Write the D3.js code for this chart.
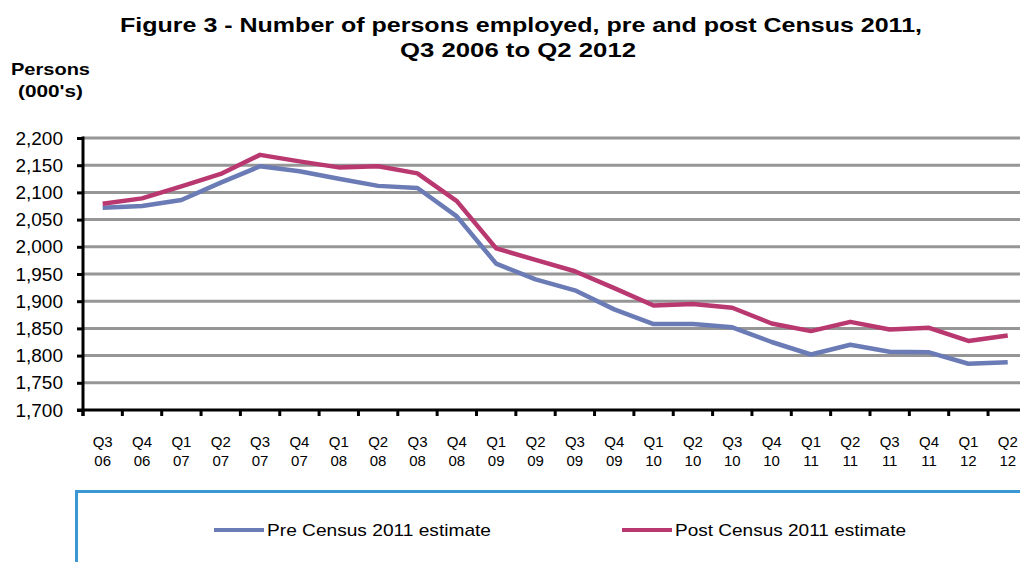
<!DOCTYPE html>
<html>
<head>
<meta charset="utf-8">
<script src="https://cdn.jsdelivr.net/npm/d3@7/dist/d3.min.js"></script>
<style>
  html, body { margin: 0; padding: 0; background: #fff; }
  svg { display: block; font-family: "Liberation Sans", Arial, sans-serif; }
</style>
</head>
<body>
<svg id="chart" width="1020" height="562"></svg>
<script>
const quarters = ["Q3","Q4","Q1","Q2","Q3","Q4","Q1","Q2","Q3","Q4","Q1","Q2","Q3","Q4","Q1","Q2","Q3","Q4","Q1","Q2","Q3","Q4","Q1","Q2"];
const years    = ["06","06","07","07","07","07","08","08","08","08","09","09","09","09","10","10","10","10","11","11","11","11","12","12"];
const preCensus  = [2072,2075,2086,2118,2148,2139,2125,2112,2108,2056,1969,1940,1920,1885,1858,1858,1852,1825,1802,1820,1807,1806,1785,1788];
const postCensus = [2079,2089,2111,2134,2169,2157,2146,2148,2135,2084,1997,1976,1955,1924,1892,1895,1888,1859,1845,1862,1848,1851,1827,1837];
const yTicks = [1700,1750,1800,1850,1900,1950,2000,2050,2100,2150,2200];
const seriesNames = ["Pre Census 2011 estimate","Post Census 2011 estimate"];

(function () {
const svg = d3.select("#chart");
const plotLeft = 83, plotTop = 138, plotBottom = 410;
const band = 39.35;
const categories = quarters.map((q,i) => i);

const x = d3.scaleBand().domain(categories).range([plotLeft, plotLeft + band*categories.length]).paddingInner(0).paddingOuter(0);
const y = d3.scaleLinear().domain([1700, 2200]).range([plotBottom, plotTop]);

// Title
svg.append("text").attr("x", 521).attr("y", 32).attr("text-anchor","middle")
  .attr("font-size", 21).attr("font-weight","bold").attr("fill","#000")
  .attr("textLength", 802).attr("lengthAdjust","spacingAndGlyphs")
  .text("Figure 3 - Number of persons employed, pre and post Census 2011,");
svg.append("text").attr("x", 518).attr("y", 57).attr("text-anchor","middle")
  .attr("font-size", 21).attr("font-weight","bold").attr("fill","#000")
  .attr("textLength", 236).attr("lengthAdjust","spacingAndGlyphs")
  .text("Q3 2006 to Q2 2012");

// Axis title
svg.append("text").attr("x", 11).attr("y", 75).attr("font-size", 17).attr("font-weight","bold")
  .attr("textLength", 79).attr("lengthAdjust","spacingAndGlyphs").text("Persons");
svg.append("text").attr("x", 18).attr("y", 97).attr("font-size", 17).attr("font-weight","bold")
  .attr("textLength", 65).attr("lengthAdjust","spacingAndGlyphs").text("(000's)");

// Gridlines
svg.append("g").selectAll("line").data(yTicks.filter(d => d !== 1700)).join("line")
  .attr("x1", plotLeft).attr("x2", 1020)
  .attr("y1", d => y(d)).attr("y2", d => y(d))
  .attr("stroke", "#969696").attr("stroke-width", 3);

// Y axis
const yAxis = d3.axisLeft(y).tickValues(yTicks).tickSize(6).tickPadding(14)
  .tickFormat(d3.format(","));
const gy = svg.append("g").attr("transform", `translate(${plotLeft},0)`).call(yAxis);
gy.select(".domain").remove();
gy.selectAll(".tick line").attr("stroke","#000").attr("stroke-width",3);
gy.selectAll(".tick text").attr("font-size", 19).attr("fill","#000")
  .attr("font-family","'Liberation Sans', Arial, sans-serif");
svg.append("line").attr("x1", plotLeft).attr("x2", plotLeft).attr("y1", plotTop - 1.5).attr("y2", plotBottom + 6)
  .attr("stroke","#000").attr("stroke-width",3);

// X axis
const boundaries = categories.map(c => x(c)).concat([plotLeft + band*categories.length]);
svg.append("line").attr("x1", plotLeft - 6).attr("x2", 1020).attr("y1", plotBottom).attr("y2", plotBottom)
  .attr("stroke","#000").attr("stroke-width",3);
svg.append("g").selectAll("line").data(boundaries).join("line")
  .attr("x1", d => d).attr("x2", d => d).attr("y1", plotBottom).attr("y2", plotBottom + 6)
  .attr("stroke","#000").attr("stroke-width",3);

const xl = svg.append("g").selectAll("g").data(categories).join("g")
  .attr("transform", d => `translate(${x(d) + x.bandwidth()/2},0)`);
xl.append("text").attr("y", 447).attr("text-anchor","middle").attr("font-size", 15).attr("fill","#000")
  .text(d => quarters[d]);
xl.append("text").attr("y", 466).attr("text-anchor","middle").attr("font-size", 15).attr("fill","#000")
  .text(d => years[d]);

// Lines
const line = d3.line().x((d,i) => x(i) + x.bandwidth()/2).y(d => y(d));
svg.append("path").datum(preCensus).attr("d", line).attr("fill","none")
  .attr("stroke","#6B7BB5").attr("stroke-width",4.5).attr("stroke-linejoin","round");
svg.append("path").datum(postCensus).attr("d", line).attr("fill","none")
  .attr("stroke","#B8386F").attr("stroke-width",4.5).attr("stroke-linejoin","round");

// Legend box
svg.append("path").attr("d", "M76.5,562 L76.5,491.5 L1020,491.5").attr("fill","none")
  .attr("stroke","#3A97D3").attr("stroke-width",3);

const legendColors = ["#6B7BB5","#B8386F"];
const legendX = [214, 622];
const legendW = [224, 231];
seriesNames.forEach((name, i) => {
  svg.append("line").attr("x1", legendX[i]).attr("x2", legendX[i] + 50).attr("y1", 530).attr("y2", 530)
    .attr("stroke", legendColors[i]).attr("stroke-width", 4);
  svg.append("text").attr("x", legendX[i] + 53).attr("y", 536).attr("font-size", 17).attr("fill","#000")
    .attr("textLength", legendW[i]).attr("lengthAdjust","spacingAndGlyphs").text(name);
});
})();
</script>
</body>
</html>
